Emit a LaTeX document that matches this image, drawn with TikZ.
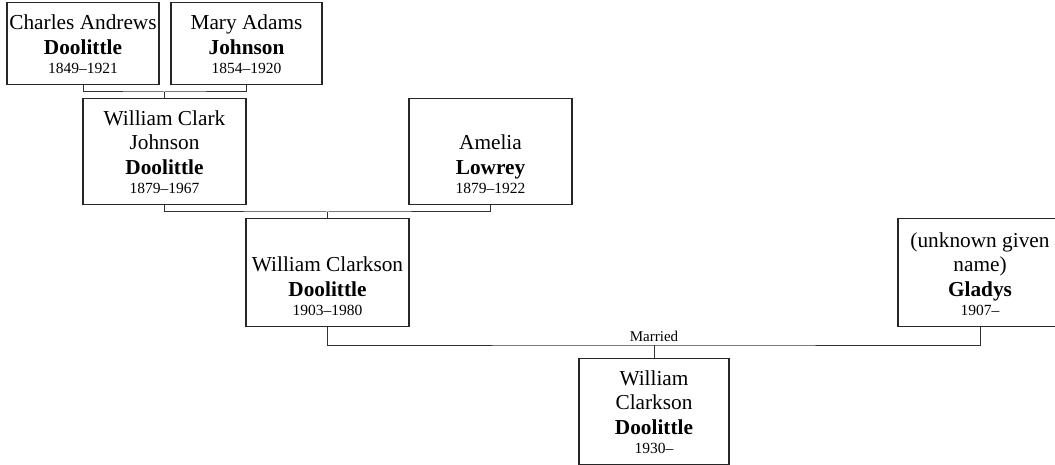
\documentclass[tikz,border=0pt]{standalone}
\usepackage{fontspec}
\setmainfont{Liberation Serif}

% text of one person: height, width, lines
\newcommand{\kin}[3]{\parbox[c][#1pt][b]{#2pt}{\centering #3}}
\newcommand{\yrs}[1]{\\[-5.5pt]{\fontsize{15.5}{19}\selectfont #1}}

\begin{document}
\begin{tikzpicture}[x=1pt, y=-1pt,
    person/.style={draw=black!85, line width=1.1pt, inner xsep=0pt, inner ysep=10.5pt,
      font=\fontsize{21.3}{24.5}\selectfont},
    link/.style={draw=black!80, line width=1pt}]
  \useasboundingbox (0,0) rectangle (1055,465);

  \node[person] (charles) at (83,43.5) {\kin{60}{152}{Charles Andrews\\\textbf{Doolittle}\yrs{1849–1921}}};
  \node[person] (mary) at (246.5,43.5) {\kin{60}{151}{Mary Adams\\\textbf{Johnson}\yrs{1854–1920}}};
  \node[person] (wcj) at (164.5,151.5) {\kin{84}{163}{William Clark\\Johnson\\\textbf{Doolittle}\yrs{1879–1967}}};
  \node[person] (amelia) at (490.5,151.5) {\kin{84}{163}{Amelia\\\textbf{Lowrey}\yrs{1879–1922}}};
  \node[person] (wcs) at (327.5,272.5) {\kin{86}{163}{William Clarkson\\\textbf{Doolittle}\yrs{1903–1980}}};
  \node[person] (gladys) at (980,272.5) {\kin{86}{164}{(unknown given\\name)\\\textbf{Gladys}\yrs{1907–}}};
  \node[person] (child) at (654,411.5) {\kin{84}{150}{William\\Clarkson\\\textbf{Doolittle}\yrs{1930–}}};

  % parents
  \coordinate (j1) at (164.5,92);
  \coordinate (j2) at (327.5,212);
  \coordinate (j3) at (654,345);
  \draw[link] (charles.south) |- (j1) -| (mary.south);
  \draw[link] (j1) -- (wcj.north);
  \draw[link] (wcj.south) |- (j2) -| (amelia.south);
  \draw[link] (j2) -- (wcs.north);
  \draw[link] (wcs.south) |- (j3) -| (gladys.south);
  \draw[link] (j3) -- (child.north);
  \node[anchor=base, font=\fontsize{15}{18}\selectfont] (wed) at (654,341) {Married};
\end{tikzpicture}
\end{document}
